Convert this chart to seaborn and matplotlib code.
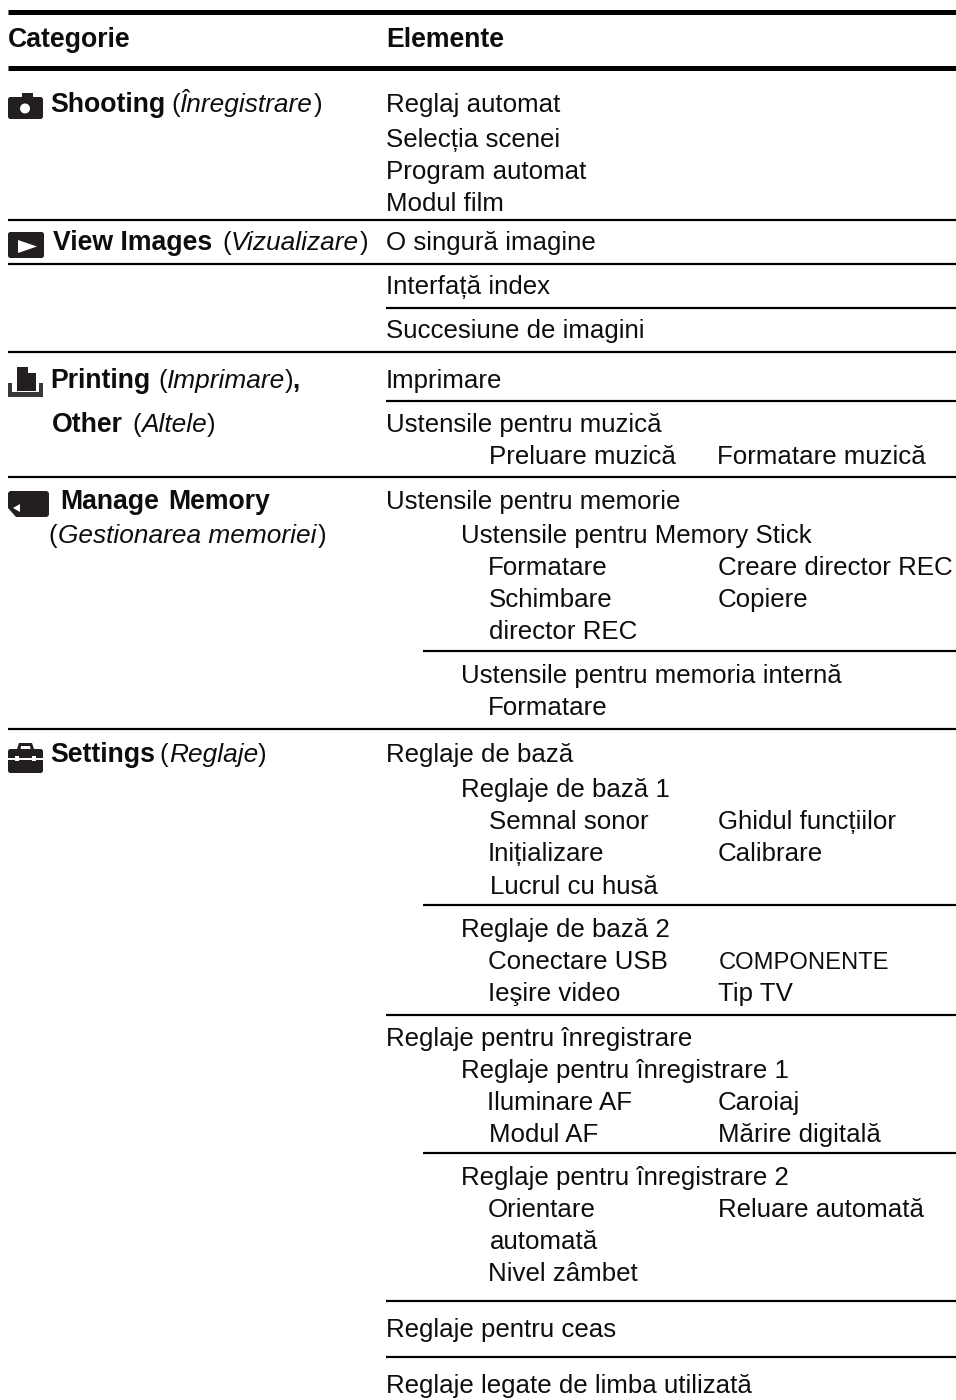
import matplotlib
matplotlib.use("Agg")
import matplotlib.pyplot as plt
from matplotlib.patches import Circle, FancyBboxPatch, Polygon, Rectangle
import seaborn as sns

sns.set_theme(style="white")
plt.rcParams["font.family"] = ["Liberation Sans", "DejaVu Sans"]

# Textos de la columna derecha
elementos = ["Reglaj automat", "Selecția scenei", "Program automat", "Modul film",
             "O singură imagine", "Interfață index", "Succesiune de imagini",
             "Imprimare", "Ustensile pentru muzică", "Preluare muzică", "Formatare muzică",
             "Ustensile pentru memorie", "Ustensile pentru Memory Stick",
             "Formatare", "Creare director REC", "Schimbare", "Copiere", "director REC",
             "Ustensile pentru memoria internă", "Formatare",
             "Reglaje de bază", "Reglaje de bază 1", "Semnal sonor", "Ghidul funcțiilor",
             "Inițializare", "Calibrare", "Lucrul cu husă",
             "Reglaje de bază 2", "Conectare USB", "Ieşire video", "Tip TV",
             "Reglaje pentru înregistrare", "Reglaje pentru înregistrare 1",
             "Iluminare AF", "Caroiaj", "Modul AF", "Mărire digitală",
             "Reglaje pentru înregistrare 2", "Orientare", "Reluare automată",
             "automată", "Nivel zâmbet", "Reglaje pentru ceas",
             "Reglaje legate de limba utilizată"]
elementos_x = [386, 386, 386, 386,
               386, 386, 386,
               386, 386, 489, 717,
               386, 461,
               488, 718, 489, 718, 489,
               461, 488,
               386, 461, 489, 718,
               488, 718, 490,
               461, 488, 488, 718,
               386, 461,
               487, 718, 489, 718,
               461, 488, 718,
               490, 488, 386,
               386]
elementos_y = [112, 147, 179, 211,
               250, 294, 338,
               388, 432, 464, 464,
               509, 543,
               575, 575, 607, 607, 639,
               683, 715,
               762, 797, 829, 829,
               861, 861, 894,
               937, 969, 1001, 1001,
               1046, 1078,
               1110, 1110, 1142, 1142,
               1185, 1217, 1217,
               1249, 1281, 1337,
               1393]

# Columna izquierda, negrita / cursiva / normal
negrita = ["Categorie", "Elemente", "Shooting", "View Images", "Printing", "Other",
           "Manage", "Memory", "Settings"]
negrita_x = [8, 386, 50, 53, 50, 52, 60, 168, 50]
negrita_y = [47, 47, 112, 250, 388, 432, 509, 509, 762]

cursiva = ["Înregistrare", "Vizualizare", "Imprimare", "Altele", "Gestionarea memoriei", "Reglaje"]
cursiva_x = [180, 231, 167, 141, 58, 169]
cursiva_y = [112, 250, 388, 432, 543, 762]

signos = ["(", ")", "(", ")", "(", ")", "(", ")", "(", ")", "(", ")"]
signos_x = [171, 314, 222, 360, 158, 285, 132, 207, 48, 318, 159, 258]
signos_y = [112, 112, 250, 250, 388, 388, 432, 432, 543, 543, 762, 762]

# Lineas de la tabla
lineas_y = [12, 68, 220, 264, 308, 352, 401, 477, 651, 729, 905, 1015, 1153, 1301, 1357]
lineas_x0 = [8, 8, 8, 8, 386, 8, 386, 8, 423, 8, 423, 386, 423, 386, 386]
lineas_px = [5, 5, 2.2, 2.2, 2.2, 2.2, 2.2, 2.2, 2.2, 2.2, 2.2, 2.2, 2.2, 2.2, 2.2]

NEGRO = "#0f0c0d"
TAM = 18.6

fig, ax = plt.subplots(figsize=(9.56, 14), dpi=100)
fig.subplots_adjust(0, 0, 1, 1)

for y, x0, px in zip(lineas_y, lineas_x0, lineas_px):
    sns.lineplot(x=[x0, 956], y=[y, y], color="black", linewidth=px * 0.72,
                 solid_capstyle="butt", errorbar=None, ax=ax)

ax.set_xlim(0, 956)
ax.set_ylim(1400, 0)
ax.axis("off")


def poner(textos, xs, ys, tam=TAM, **kw):
    for t, x, y in zip(textos, xs, ys):
        ax.text(x, y, t, va="baseline", ha="left", color=NEGRO, fontsize=tam, **kw)


poner(elementos, elementos_x, elementos_y)
poner(negrita, negrita_x, negrita_y, tam=19.2, fontweight="bold")
poner(cursiva, cursiva_x, cursiva_y, tam=18.9, style="italic")
poner(signos, signos_x, signos_y)
ax.text(292, 388, ",", va="baseline", color=NEGRO, fontsize=TAM, fontweight="bold")
ax.text(719, 969, "COMPONENTE", va="baseline", color=NEGRO, fontsize=17.1)


def caja(x0, y0, x1, y1, r=2.5, color="#231f20"):
    ax.add_patch(FancyBboxPatch((x0 + r, y0 + r), x1 - x0 - 2 * r, y1 - y0 - 2 * r,
                                boxstyle=f"round,pad={r}", fc=color, ec="none"))


# Iconos
ICONO = "#231f20"
caja(8, 97, 43, 119)
ax.add_patch(Rectangle((22, 93), 11, 6, fc=ICONO, ec="none"))
ax.add_patch(Circle((25, 108.5), 5, fc="white", ec="none"))

caja(8, 232, 44, 258)
ax.add_patch(Polygon([(18, 240), (18, 253), (37, 246.5)], fc="white", ec="none"))

ax.add_patch(Polygon([(17, 367), (28, 367), (28, 373), (36, 373), (36, 391), (17, 391)],
                     fc=ICONO, ec="none"))
ax.add_patch(Polygon([(8, 383), (12, 383), (12, 392), (39, 392), (39, 383), (43, 383),
                      (43, 397), (8, 397)], fc="#3a3738", ec="none"))

ax.add_patch(Polygon([(10, 491), (47, 491), (49, 493), (49, 515), (47, 517),
                      (16, 517), (8, 508), (8, 493)], fc=ICONO, ec="none"))
ax.add_patch(Polygon([(13, 508), (20, 504), (20, 512)], fc="white", ec="none"))

caja(8, 749, 43, 773)
ax.add_patch(Polygon([(17, 749), (19, 743), (32, 743), (34, 749), (30.5, 749), (30, 746),
                      (21, 746), (20.5, 749)], fc=ICONO, ec="none"))
ax.add_patch(Rectangle((8, 758), 35, 1.6, fc="white", ec="none"))
ax.add_patch(Rectangle((15, 756), 4, 5, fc="white", ec="none"))
ax.add_patch(Rectangle((32, 756), 4, 5, fc="white", ec="none"))

fig.savefig("out.png", dpi=100)
